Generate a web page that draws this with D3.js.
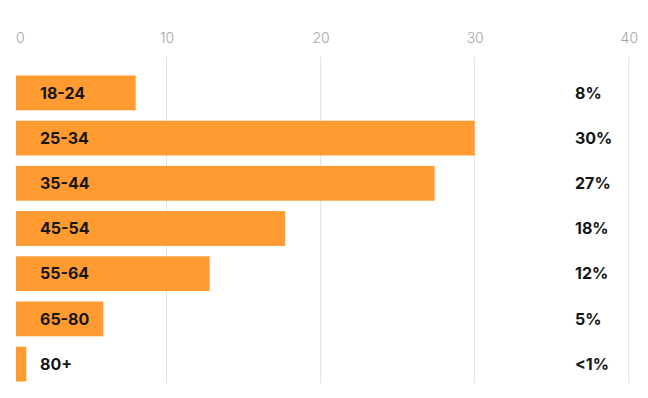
<!DOCTYPE html>
<html>
<head>
<meta charset="utf-8">
<script src="https://cdn.jsdelivr.net/npm/d3@7"></script>
<style>
  html, body { margin: 0; padding: 0; background: #fff; }
  svg { display: block; }
</style>
</head>
<body>
<svg id="chart" width="648" height="398"></svg>
<script>
const categories = ["18-24", "25-34", "35-44", "45-54", "55-64", "65-80", "80+"];
const values = [8, 30, 27.4, 17.7, 12.8, 5.9, 0.9];
const valueLabels = ["8%", "30%", "27%", "18%", "12%", "5%", "<1%"];
const tickValues = [0, 10, 20, 30, 40];

const svg = d3.select("#chart");
const W = 648, H = 398;
const font = "Inter, 'Open Sans', sans-serif";

const x = d3.scaleLinear().domain([0, 40]).range([12.4, 628.8]);
const y = d3.scaleBand().domain(categories).range([70.3, 386.7]).paddingInner(0.23).paddingOuter(0.115);

svg.append("defs").append("clipPath").attr("id", "clipL")
  .append("rect").attr("x", 16).attr("y", 0).attr("width", W - 16).attr("height", H);

// gridlines
svg.append("g").selectAll("line").data(tickValues.filter(d => d > 0)).join("line")
  .attr("x1", d => x(d)).attr("x2", d => x(d))
  .attr("y1", 56.5).attr("y2", 383.5)
  .attr("stroke", "#e3e3e3").attr("stroke-width", 1);

// top axis
const axis = d3.axisTop(x).tickValues(tickValues).tickSize(0).tickPadding(0);
const gAxis = svg.append("g").attr("transform", "translate(0,42.5)").call(axis);
gAxis.select(".domain").remove();
gAxis.selectAll("text")
  .attr("font-family", font).attr("font-size", 14).attr("font-weight", 300)
  .attr("fill", "#a3a3a3")
  .attr("dx", d => d === 0 ? 7.5 : 0);

// bars
svg.append("g").attr("clip-path", "url(#clipL)").selectAll("rect")
  .data(categories).join("rect")
  .attr("x", x(0))
  .attr("y", d => y(d))
  .attr("width", (d, i) => x(values[i]) - x(0))
  .attr("height", y.bandwidth())
  .attr("fill", "#FF9B31");

// category labels
svg.append("g").selectAll("text").data(categories).join("text")
  .attr("x", 40)
  .attr("y", d => y(d) + y.bandwidth() / 2)
  .attr("dy", "0.36em")
  .attr("font-family", font).attr("font-size", 16).attr("font-weight", 700)
  .attr("fill", "#161616")
  .text(d => d);

// value labels
svg.append("g").selectAll("text").data(categories).join("text")
  .attr("x", 575)
  .attr("y", d => y(d) + y.bandwidth() / 2)
  .attr("dy", "0.36em")
  .attr("font-family", font).attr("font-size", 16).attr("font-weight", 700)
  .attr("fill", "#161616")
  .text((d, i) => valueLabels[i]);
</script>
</body>
</html>
